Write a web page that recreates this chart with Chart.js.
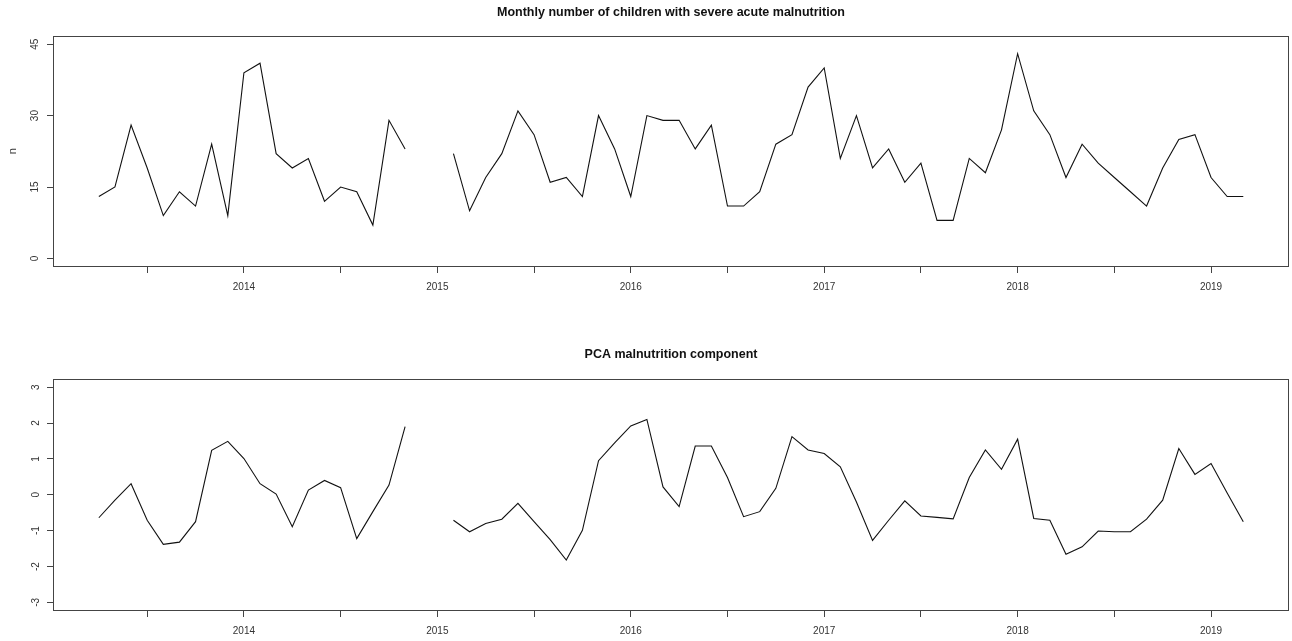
<!DOCTYPE html>
<html>
<head>
<meta charset="utf-8">
<script src="https://cdn.jsdelivr.net/npm/chart.js@4.4.1/dist/chart.umd.min.js"></script>
<style>
  html, body { margin: 0; padding: 0; background: #fff; }
  #wrap { position: relative; width: 1292px; height: 641px; }
  .panel { position: absolute; left: 0; }
</style>
</head>
<body>
<div id="wrap">
  <canvas id="sam" class="panel" style="top:0" width="1292" height="320"></canvas>
  <canvas id="pca" class="panel" style="top:320px" width="1292" height="321"></canvas>
</div>
<script>
// monthly series, April 2013 .. March 2019 (Dec 2014 / Jan 2015 missing)
const startYear = 2013;
const startMonth = 4;

const samCounts = [
  13, 15, 28, 19, 9, 14, 11, 24, 9,                     // 2013 Apr-Dec
  39, 41, 22, 19, 21, 12, 15, 14, 7, 29, 23, null,      // 2014
  null, 22, 10, 17, 22, 31, 26, 16, 17, 13, 30, 23,     // 2015
  13, 30, 29, 29, 23, 28, 11, 11, 14, 24, 26, 36,       // 2016
  40, 21, 30, 19, 23, 16, 20, 8, 8, 21, 18, 27,         // 2017
  43, 31, 26, 17, 24, 20, 17, 14, 11, 19, 25, 26,       // 2018
  17, 13, 13                                            // 2019 Jan-Mar
];

const pcaScores = [
  -0.64, -0.15, 0.31, -0.71, -1.38, -1.32, -0.75, 1.24, 1.49,
  1.01, 0.31, 0.02, -0.89, 0.13, 0.40, 0.20, -1.22, -0.47, 0.27, 1.90, null,
  null, -0.71, -1.03, -0.80, -0.68, -0.24, -0.75, -1.25, -1.82, -0.99, 0.95, 1.45,
  1.92, 2.10, 0.22, -0.33, 1.36, 1.36, 0.48, -0.61, -0.47, 0.18, 1.62, 1.25,
  1.15, 0.78, -0.20, -1.27, -0.71, -0.17, -0.59, -0.63, -0.67, 0.48, 1.25, 0.71,
  1.55, -0.66, -0.71, -1.66, -1.45, -1.01, -1.03, -1.03, -0.68, -0.15, 1.29, 0.57,
  0.87, 0.05, -0.75
];

const xTicks = [2013.5, 2014, 2014.5, 2015, 2015.5, 2016, 2016.5, 2017, 2017.5, 2018, 2018.5, 2019];
const samTicks = [0, 15, 30, 45];
const pcaTicks = [-3, -2, -1, 0, 1, 2, 3];

// decimal time of each month, like an R ts object
const times = samCounts.map((_, i) => startYear + (startMonth - 1 + i) / 12);

Chart.defaults.font.family = "'Liberation Sans', Arial, sans-serif";
Chart.defaults.color = '#333';

const axisColor = '#444';

// draws the full box around the plot region (axis borders are off)
const frame = {
    id: 'frame',
    afterDraw(chart) {
        const { ctx, chartArea: a } = chart;
        const l = Math.round(a.left) + 0.5, r = Math.round(a.right) - 0.5;
        const t = Math.round(a.top) + 0.5, b = Math.round(a.bottom) - 0.5;
        ctx.save();
        ctx.strokeStyle = axisColor;
        ctx.lineWidth = 1;
        ctx.strokeRect(l, t, r - l, b - t);
        ctx.restore();
    }
};

function makeChart(id, values, yTicks, yMin, yMax, title, yTitle, titlePad, xHeight) {
    return new Chart(document.getElementById(id), {
        type: 'line',
        data: {
            datasets: [{
                data: values.map((v, i) => ({ x: times[i], y: v })),
                borderColor: '#111',
                borderWidth: 1.1,
                pointRadius: 0,
                tension: 0,
                spanGaps: false
            }]
        },
        options: {
            responsive: false,
            animation: false,
            layout: { padding: { left: 0, right: 3, top: 0, bottom: 0 } },
            plugins: {
                legend: { display: false },
                tooltip: { enabled: false },
                title: {
                    display: true,
                    text: title,
                    fullSize: false,
                    color: '#111',
                    font: { size: 12.5, weight: 'bold' },
                    padding: titlePad
                }
            },
            scales: {
                x: {
                    type: 'linear',
                    min: 2013.013,
                    max: 2019.403,
                    afterBuildTicks: s => { s.ticks = xTicks.map(v => ({ value: v })); },
                    afterFit: s => { s.height = xHeight; },
                    grid: { drawOnChartArea: false, drawTicks: true, tickLength: 6, color: axisColor },
                    border: { display: false },
                    ticks: {
                        autoSkip: false,
                        maxRotation: 0,
                        padding: 8,
                        font: { size: 10 },
                        callback: v => Number.isInteger(v) ? String(v) : ''
                    }
                },
                y: {
                    min: yMin,
                    max: yMax,
                    afterBuildTicks: s => { s.ticks = yTicks.map(v => ({ value: v })); },
                    afterFit: s => { s.width = 53; },
                    grid: { drawOnChartArea: false, drawTicks: true, tickLength: 6, color: axisColor },
                    border: { display: false },
                    ticks: {
                        minRotation: 90,
                        maxRotation: 90,
                        crossAlign: 'center',
                        padding: 6,
                        font: { size: 10 },
                        callback: v => String(v)
                    },
                    title: {
                        display: !!yTitle,
                        text: yTitle,
                        font: { size: 11 },
                        padding: { top: 6, bottom: 0 }
                    }
                }
            }
        },
        plugins: [frame]
    });
}

makeChart('sam', samCounts, samTicks, -1.8, 46.8,
    'Monthly number of children with severe acute malnutrition', 'n',
    { top: 5.5, bottom: 15.1 }, 53);

makeChart('pca', pcaScores, pcaTicks, -3.24, 3.24,
    'PCA malnutrition component', '',
    { top: 27.5, bottom: 16.1 }, 30);
</script>
</body>
</html>
